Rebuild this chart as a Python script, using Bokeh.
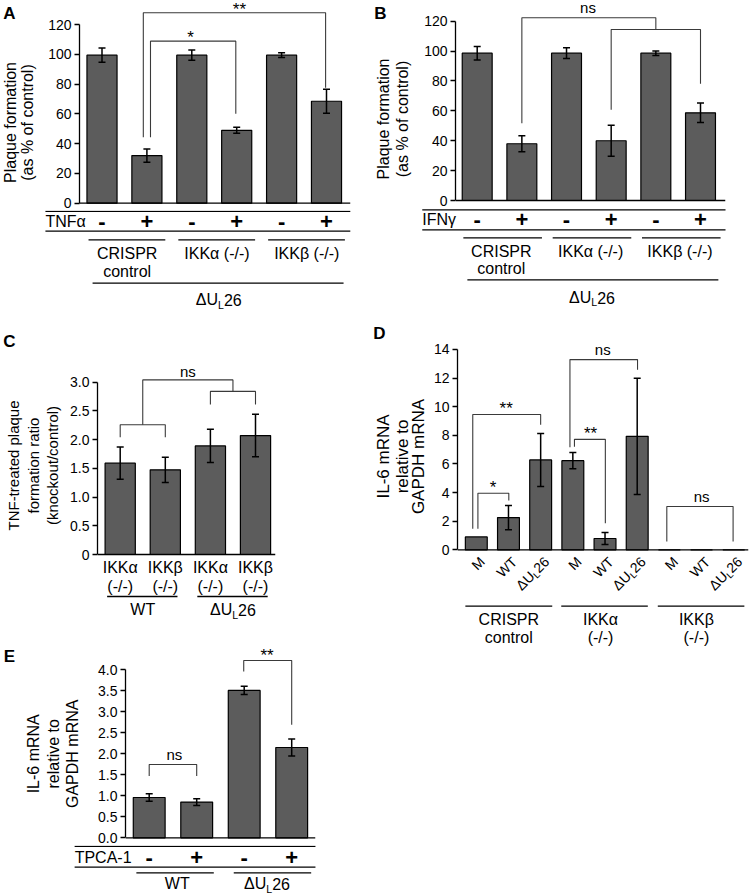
import math
from bokeh.plotting import figure
from bokeh.models import Range1d, FixedTicker, Span, Whisker, TeeHead, ColumnDataSource, Spacer
from bokeh.layouts import row, column
from bokeh.core.properties import value
from bokeh.embed import file_html
from bokeh.resources import INLINE

# ------------------------------------------------------------------ data
a_treat = ["-", "+", "-", "+", "-", "+"]
a_values = [99.5, 32.0, 99.5, 49.0, 99.5, 68.5]
a_errors = [4.8, 4.5, 3.5, 2.0, 1.6, 8.0]
a_groups = [["CRISPR", "control"], ["IKKα (-/-)"], ["IKKβ (-/-)"]]
a_yticks = [0, 20, 40, 60, 80, 100, 120]
a_ylabels = ["0", "20", "40", "60", "80", "100", "120"]
# x_left, x_right, y_top, y_left_end, y_right_end, label, label_x, label_y
a_brackets = [
    (1.08, 2.98, 108.9, 44.4, 60.1, "*", 1.97, 114.7),
    (0.92, 4.98, 128.0, 44.4, 77.6, "**", 3.06, 132.9),
]

b_treat = ["-", "+", "-", "+", "-", "+"]
b_values = [98.6, 38.0, 98.6, 40.0, 98.6, 58.7]
b_errors = [4.5, 5.3, 3.6, 10.3, 1.5, 6.5]
b_groups = [["CRISPR", "control"], ["IKKα (-/-)"], ["IKKβ (-/-)"]]
b_yticks = [0, 20, 40, 60, 80, 100, 120]
b_ylabels = ["0", "20", "40", "60", "80", "100", "120"]
b_brackets = [
    (1.0, 4.0, 122.3, 51.7, 114.5, "ns", 2.48, 129.8),
    (3.0, 5.0, 114.5, 60.7, 78.1, "", 4.0, 114.5),
]

c_cats = [["IKKα", "(-/-)"], ["IKKβ", "(-/-)"], ["IKKα", "(-/-)"], ["IKKβ", "(-/-)"]]
c_values = [1.59, 1.475, 1.89, 2.07]
c_errors = [0.28, 0.22, 0.29, 0.37]
c_groups = ["WT", "DUL26"]
c_yticks = [0, 0.5, 1.0, 1.5, 2.0, 2.5, 3.0]
c_ylabels = ["0", "0.5", "1.0", "1.5", "2.0", "2.5", "3.0"]
c_brackets = [
    (0.0, 1.0, 2.26, 2.04, 2.04, "", 0.5, 2.26),
    (2.0, 3.0, 2.84, 2.61, 2.61, "", 2.5, 2.84),
    (0.5, 2.5, 3.04, 2.26, 2.84, "ns", 1.5, 3.2),
]

d_cats = ["M", "WT", "DUL26", "M", "WT", "DUL26", "M", "WT", "DUL26"]
d_values = [0.9, 2.25, 6.28, 6.23, 0.79, 7.93, 0.0, 0.0, 0.0]
d_errors = [0.0, 0.85, 1.85, 0.57, 0.42, 4.06, 0.0, 0.0, 0.0]
d_groups = [["CRISPR", "control"], ["IKKα", "(-/-)"], ["IKKβ", "(-/-)"]]
d_yticks = [0, 2, 4, 6, 8, 10, 12, 14]
d_ylabels = ["0", "2", "4", "6", "8", "10", "12", "14"]
d_brackets = [
    (0.05, 1.01, 3.95, 1.47, 3.44, "*", 0.52, 4.65),
    (-0.11, 2.0, 9.45, 1.47, 8.74, "**", 0.93, 10.2),
    (2.91, 5.01, 13.29, 7.16, 12.58, "ns", 3.93, 14.05),
    (3.05, 4.01, 7.72, 7.2, 1.86, "**", 3.55, 8.46),
    (5.92, 7.98, 3.03, 0.58, 0.58, "ns", 7.0, 3.8),
]

e_treat = ["-", "+", "-", "+"]
e_values = [0.96, 0.85, 3.51, 2.15]
e_errors = [0.09, 0.08, 0.10, 0.20]
e_groups = ["WT", "DUL26"]
e_yticks = [0, 0.5, 1.0, 1.5, 2.0, 2.5, 3.0, 3.5, 4.0]
e_ylabels = ["0.0", "0.5", "1.0", "1.5", "2.0", "2.5", "3.0", "3.5", "4.0"]
e_brackets = [
    (0.0, 1.0, 1.745, 1.47, 1.47, "ns", 0.53, 2.01),
    (1.99, 3.0, 4.22, 3.96, 2.69, "**", 2.48, 4.44),
]

# ------------------------------------------------------------------ style
FONT = "Liberation Sans"
BAR_FILL = "#5c5c5c"
BRACKET = "#3a3a3a"
TICK_SIZE = 14
LAB_SIZE = 16
SIGN_SIZE = 22


def txt(p, xs, ys, texts, size, align="center", baseline="middle", bold=False,
        angle=0.0, xo=0.0, yo=0.0, color="black"):
    p.text(x=xs, y=ys, text=texts, text_font=value(FONT),
           text_font_size=value(f"{size}px"),
           text_font_style=value("bold" if bold else "normal"),
           text_align=value(align), text_baseline=value(baseline),
           angle=angle, x_offset=xo, y_offset=yo, text_color=color)


def dul26(p, x, y, size, angle=0.0, align="center", xo=0.0, yo=0.0):
    """Draw 'ΔU' + subscript 'L' + '26' (anchor = middle of the text line)."""
    s = size
    ws = 0.66 * s
    w1 = 1.39 * s
    wL = 0.556 * ws
    w2 = 1.112 * s
    total = w1 + wL + w2
    start = -total / 2 if align == "center" else -total
    pieces = [("ΔU", s, start, 0.0), ("L", ws, start + w1, 0.3 * s),
              ("26", s, start + w1 + wL, 0.0)]
    c, sn = math.cos(angle), math.sin(angle)
    for t, fs, u, v in pieces:
        ox = xo + u * c + v * sn
        oy = yo - u * sn + v * c
        txt(p, [x], [y], [t], fs, align="left", baseline="middle",
            angle=angle, xo=ox, yo=oy)


def label_or_dul(p, x, y, t, size):
    if t == "DUL26":
        dul26(p, x, y, size)
    else:
        txt(p, [x], [y], [t], size)


def signs(p, treat, y):
    txt(p, list(range(len(treat))), [y] * len(treat), treat, SIGN_SIZE, bold=True)


def blank_fig(w, h, xr, yr):
    p = figure(width=w, height=h, x_range=xr, y_range=yr, output_backend="svg",
               toolbar_location=None, x_axis_type=None, y_axis_type=None,
               min_border=0, min_border_left=0, min_border_right=0,
               min_border_top=0, min_border_bottom=0)
    p.outline_line_color = None
    p.background_fill_color = "white"
    p.border_fill_color = "white"
    if p.title is not None:
        p.title.visible = False
    return p


def build_panel(geo, values, errors, yticks, ylabels, brackets, letter, ylab_lines,
                ylab_xs, ylab_y, ylab_size, draw_ann, row_top_px, merged=False):
    L = round(geo["left"])
    BX = round(geo["bx"])
    AX = round(geo["axis_x"])
    RX = round(geo["right_x"])
    RE = round(geo["right_edge"])
    T = round(geo["top"])
    AL = round(geo["ann_left"])
    AR = round(geo["ann_right"])
    AB = round(geo["ann_bottom"])
    FB = AB if merged else round(geo["base"] + geo["fb_off"])
    c0x = geo["c0"]
    spx = geo["sp"]
    basey = geo["base"]
    ppux = geo["ppu"]

    def xd(lx):
        return (lx - c0x) / spx

    def yd(ly):
        return (basey - ly) / ppux

    # ---- main plot
    p = figure(width=RE - BX, height=FB - T, x_range=Range1d(xd(AX), xd(RX)),
               y_range=Range1d(yd(FB), yd(T)), output_backend="svg",
               toolbar_location=None, x_axis_type=None,
               min_border=0, min_border_left=AX - BX, min_border_right=RE - RX,
               min_border_top=0, min_border_bottom=0)
    if p.title is not None:
        p.title.visible = False
    p.outline_line_color = None
    p.background_fill_color = "white"
    p.border_fill_color = "white"
    p.ygrid.visible = False
    ax = p.yaxis[0]
    ax.ticker = FixedTicker(ticks=yticks)
    ax.major_label_overrides = {t: l for t, l in zip(yticks, ylabels)}
    ax.bounds = (yticks[0], yticks[-1])
    ax.axis_line_width = 1.3
    ax.axis_line_color = "black"
    ax.major_tick_line_width = 1.3
    ax.major_tick_line_color = "black"
    ax.major_tick_in = 0
    ax.major_tick_out = 5
    ax.minor_tick_in = 0
    ax.minor_tick_out = 0
    ax.major_label_standoff = 3
    ax.major_label_text_font = FONT
    ax.major_label_text_font_size = f"{TICK_SIZE}px"
    ax.major_label_text_color = "black"

    xs = list(range(len(values)))
    p.vbar(x=xs, top=values, bottom=0, width=geo["bw"], fill_color=BAR_FILL,
           line_color="black", line_width=1.2)
    idx = [i for i, e in enumerate(errors) if e > 0]
    src = ColumnDataSource(dict(x=[xs[i] for i in idx],
                                upper=[values[i] + errors[i] for i in idx],
                                lower=[values[i] - errors[i] for i in idx]))
    wk = Whisker(base="x", upper="upper", lower="lower", source=src,
                 line_color="black", line_width=1.5, level="annotation",
                 upper_head=TeeHead(size=7, line_width=1.5, line_color="black"),
                 lower_head=TeeHead(size=7, line_width=1.5, line_color="black"))
    p.add_layout(wk)
    p.add_layout(Span(location=0, dimension="width", line_color="black", line_width=1.3))

    bxs, bys = [], []
    for (xl, xr, yt, yl, yr, lab, lx, ly) in brackets:
        bxs.append([xl, xl, xr, xr])
        bys.append([yl, yt, yt, yr])
    p.multi_line(bxs, bys, line_color=BRACKET, line_width=1.1)
    for (xl, xr, yt, yl, yr, lab, lx, ly) in brackets:
        if lab:
            if "*" in lab:
                txt(p, [lx], [ly], [lab], 17, yo=4.5)
            else:
                txt(p, [lx], [ly], [lab], 15, yo=1.0)

    # ---- left strip (panel letter, y-axis title)
    lf = blank_fig(BX - L, FB - T, Range1d(L, BX), Range1d(FB, T))
    txt(lf, [letter[1]], [letter[2]], [letter[0]], 17, bold=True)
    for line, lx in zip(ylab_lines, ylab_xs):
        txt(lf, [lx], [ylab_y], [line], ylab_size, angle=math.pi / 2)

    kids = []
    if T - row_top_px > 0:
        kids.append(Spacer(width=1, height=T - row_top_px))
    kids.append(row(lf, p))

    if merged:
        draw_ann(p, yd)
    else:
        an = blank_fig(AR - AL, AB - FB, Range1d(xd(AL), xd(AR)), Range1d(AB, FB))
        draw_ann(an, lambda v: v)
        if AL > L:
            kids.append(row(Spacer(width=AL - L, height=1), an))
        else:
            kids.append(an)
    return column(*kids), L, max(RE, AR), AB


def seg(p, x0, x1, y, lw=1.3):
    p.segment(x0=[x0], y0=[y], x1=[x1], y1=[y], line_color="black", line_width=lw)


# ------------------------------------------------------------------ annotations
def ann_ab(treat, groups, trt_label, y1, yt, y2, yg, yl1, yl2, yd_line, yd_txt, xl, xr,
           gspan, glab, dline):
    def f(p, ym):
        seg(p, xl, xr, ym(y1))
        seg(p, xl, xr, ym(y2))
        txt(p, [xl], [ym(yt)], [trt_label], LAB_SIZE, align="left")
        signs(p, treat, ym(yt))
        for g, lines in enumerate(groups):
            seg(p, 2 * g + gspan[0], 2 * g + gspan[1], ym(yg))
            for k, line in enumerate(lines):
                txt(p, [2 * g + glab], [ym(yl1 if k == 0 else yl2)], [line], LAB_SIZE)
        seg(p, dline[0], dline[1], ym(yd_line))
        dul26(p, dline[2], ym(yd_txt), LAB_SIZE)
    return f


def ann_c(p, ym):
    for i, (l1, l2) in enumerate(c_cats):
        txt(p, [i], [ym(566.5)], [l1], LAB_SIZE)
        txt(p, [i], [ym(586)], [l2], LAB_SIZE)
    for g, name in enumerate(c_groups):
        seg(p, 2 * g - 0.29, 2 * g + 1.27, ym(596))
        label_or_dul(p, 2 * g + 0.5, ym(609.3), name, LAB_SIZE)


def ann_d(p, ym):
    ya = ym(549.3 + 9.5)
    for i, c in enumerate(d_cats):
        if c == "DUL26":
            dul26(p, i, ya, 14, angle=math.pi / 4, align="right", xo=6)
        else:
            txt(p, [i], [ya], [c], 14, align="right", baseline="middle",
                angle=math.pi / 4, xo=6)
    spans = [(-0.34, 2.36), (2.64, 5.33), (5.64, 8.33)]
    centers = [1.01, 3.86, 6.84]
    for (g0, g1), cx, lines in zip(spans, centers, d_groups):
        seg(p, g0, g1, ym(605.7))
        txt(p, [cx], [ym(619)], [lines[0]], LAB_SIZE)
        txt(p, [cx], [ym(636.8)], [lines[1]], LAB_SIZE)


def ann_e(p, ym):
    seg(p, -1.57, 3.5, ym(845.9))
    seg(p, -1.57, 3.5, ym(866.7))
    txt(p, [-1.57], [ym(857.3)], ["TPCA-1"], LAB_SIZE, align="left")
    signs(p, e_treat, ym(857.3))
    spans = [(-0.27, 1.36), (1.78, 3.41)]
    centers = [0.59, 2.48]
    for (g0, g1), cx, name in zip(spans, centers, e_groups):
        seg(p, g0, g1, ym(872.3))
        label_or_dul(p, cx, ym(883.3), name, LAB_SIZE)


# ------------------------------------------------------------------ geometry (reference pixel positions)
geoA = dict(left=0, bx=42, axis_x=79, right_x=350, right_edge=352, top=0, base=202.7, fb_off=7.3,
            c0=101.5, sp=44.9, ppu=1.488, bw=0.67, ann_left=44, ann_right=352, ann_bottom=310)
geoB = dict(left=372, bx=420, axis_x=455, right_x=725, right_edge=727, top=0, base=200, fb_off=7.2,
            c0=476.7, sp=44.66, ppu=1.494, bw=0.67, ann_left=420, ann_right=727, ann_bottom=310)
geoC = dict(left=0, bx=62, axis_x=96.7, right_x=275, right_edge=277, top=322, base=554, fb_off=7,
            c0=119.7, sp=45.1, ppu=57.43, bw=0.67, ann_left=96.7, ann_right=277, ann_bottom=620)
geoD = dict(left=372, bx=428, axis_x=457.3, right_x=748, right_edge=749, top=322, base=549.3,
            fb_off=7, c0=475.8, sp=32.18, ppu=14.31, bw=0.68, ann_left=457.3, ann_right=749,
            ann_bottom=646)
geoE = dict(left=0, bx=86, axis_x=125, right_x=315, right_edge=317, top=646, base=837.3, fb_off=7.4,
            c0=148.7, sp=47.5, ppu=42.0, bw=0.67, ann_left=72, ann_right=317, ann_bottom=894)

row1_top = 0
colA, LA, RA, BA = build_panel(
    geoA, a_values, a_errors, a_yticks, a_ylabels, a_brackets, ("A", 9, 13),
    ["Plaque formation", "(as % of control)"], [10, 27], 122, 16,
    ann_ab(a_treat, a_groups, "TNFα", 210.9, 221.2, 230.7, 239.3, 253, 270.7, 282.7, 299.3,
           -1.26, 5.53, (-0.3, 1.41), 0.56, (-0.21, 5.38, 2.6)), row1_top)
colB, LB, RB, BB = build_panel(
    geoB, b_values, b_errors, b_yticks, b_ylabels, b_brackets, ("B", 380, 13),
    ["Plaque formation", "(as % of control)"], [382.5, 401.5], 118.5, 16,
    ann_ab(b_treat, b_groups, "IFNγ", 209.3, 219.2, 229.3, 237.3, 251, 268, 279.3, 297,
           -1.23, 5.56, (-0.31, 1.45), 0.54, (-0.22, 5.40, 2.57)), row1_top)
r1 = row(colA, Spacer(width=LB - RA, height=1), colB)
row2_top = max(BA, BB)

colC, LC, RC, BC = build_panel(
    geoC, c_values, c_errors, c_yticks, c_ylabels, c_brackets, ("C", 9, 341),
    ["TNF-treated plaque", "formation ratio", "(knockout/control)"], [13, 32.5, 52], 465, 15,
    ann_c, row2_top, merged=True)
colD, LD, RD, BD = build_panel(
    geoD, d_values, d_errors, d_yticks, d_ylabels, d_brackets, ("D", 379, 333),
    ["IL-6 mRNA", "relative to", "GAPDH mRNA"], [383.3, 401.7, 418.3], 456, 17,
    ann_d, row2_top, merged=True)
r2 = row(colC, Spacer(width=LD - RC, height=1), colD)
row3_top = max(BC, BD)

colE, LE, RE_, BE = build_panel(
    geoE, e_values, e_errors, e_yticks, e_ylabels, e_brackets, ("E", 9, 656),
    ["IL-6 mRNA", "relative to", "GAPDH mRNA"], [33.3, 53.3, 71.7], 753.3, 16,
    ann_e, row3_top)
r3 = row(colE)

layout = column(r1, r2, r3)
open("out.html", "w").write(file_html(layout, INLINE))
